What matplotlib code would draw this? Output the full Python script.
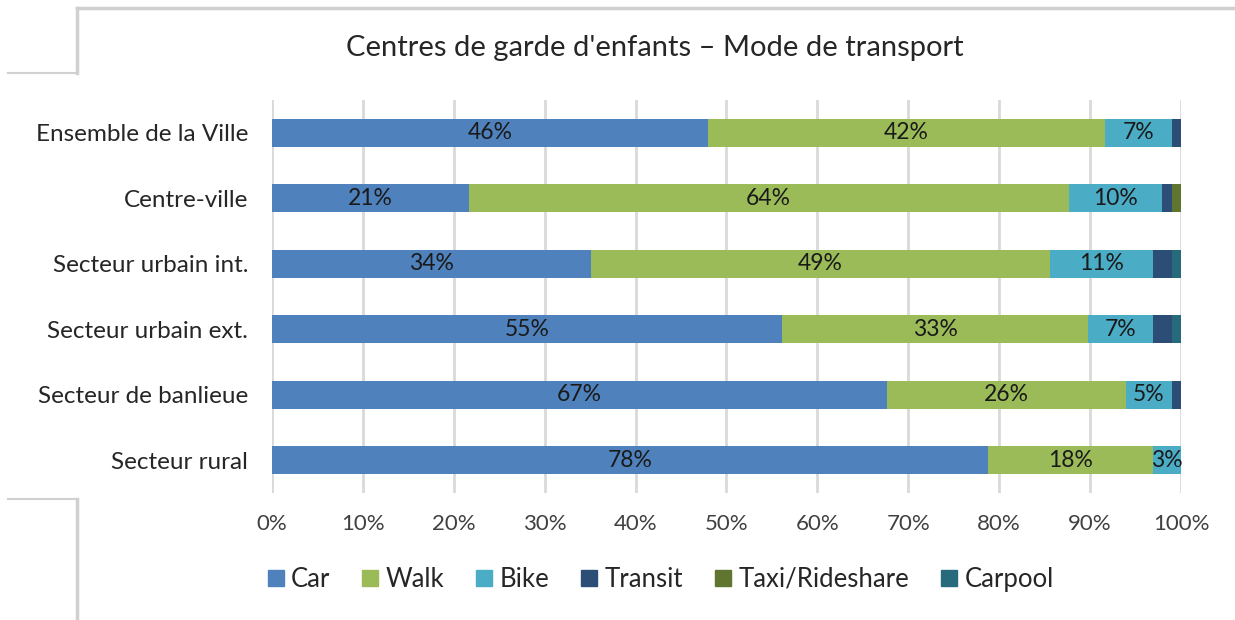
import numpy as np
import matplotlib.pyplot as plt
from matplotlib.lines import Line2D

plt.rcParams['font.family'] = ['Lato', 'DejaVu Sans']

# data
categories = ['Ensemble de la Ville', 'Centre-ville', 'Secteur urbain int.',
              'Secteur urbain ext.', 'Secteur de banlieue', 'Secteur rural']
series = ['Car', 'Walk', 'Bike', 'Transit', 'Taxi/Rideshare', 'Carpool']
car = [46, 21, 34, 55, 67, 78]
walk = [42, 64, 49, 33, 26, 18]
bike = [7, 10, 11, 7, 5, 3]
transit = [1, 1, 2, 2, 1, 0]
taxi = [0, 1, 0, 0, 0, 0]
carpool = [0, 0, 1, 1, 0, 0]
colors = ['#4F81BD', '#9BBB59', '#4BACC6', '#2C4D75', '#5F7530', '#276A7C']
labelled = [True, True, True, False, False, False]

values = np.array([car, walk, bike, transit, taxi, carpool], dtype=float)
shares = values / values.sum(axis=0) * 100  # 100% stacked

fig = plt.figure(figsize=(12.35, 6.2), dpi=100)
ax = fig.add_axes([0.2202, 0.2048, 0.7361, 0.6339])

y = np.arange(len(categories))
left = np.zeros(len(categories))
for i, name in enumerate(series):
    ax.barh(y, shares[i], left=left, height=0.43, color=colors[i],
            label=name, zorder=3)
    if labelled[i]:
        for j in range(len(categories)):
            if values[i, j] > 0:
                ax.text(left[j] + shares[i, j] / 2, y[j], '%d%%' % values[i, j],
                        ha='center', va='center', fontsize=16.5,
                        color='#1a1a1a', zorder=4)
    left += shares[i]

ax.set_xlim(0, 100)
ax.set_ylim(len(categories) - 0.5, -0.5)
ax.set_xticks(np.arange(0, 101, 10))
ax.set_xticklabels(['%d%%' % t for t in range(0, 101, 10)])
ax.set_yticks(y)
ax.set_yticklabels(categories)
ax.tick_params(axis='x', length=0, labelsize=16, labelcolor='#404040', pad=15)
ax.tick_params(axis='y', length=0, labelsize=17.5, labelcolor='#262626', pad=17)
ax.grid(axis='x', color='#d9d9d9', linewidth=2, zorder=0)
for s in ax.spines.values():
    s.set_visible(False)

fig.text(0.530, 0.923, "Centres de garde d'enfants \u2013 Mode de transport",
         ha='center', va='center', fontsize=21, color='#262626')

handles = [Line2D([], [], marker='s', linestyle='none', markersize=11,
                  color=c) for c in colors]
fig.legend(handles, series, loc='center', bbox_to_anchor=(0.535, 0.066),
           ncol=6, frameon=False, fontsize=18.5, handletextpad=0.3,
           handlelength=0.6, columnspacing=1.25, labelcolor='#262626')

# screenshot cell borders
border = '#d0d0d0'
W, H = 1235.0, 620.0
def seg(x0, y0, x1, y1, lw=1.5):
    fig.add_artist(Line2D([x0 / W, x1 / W], [1 - y0 / H, 1 - y1 / H],
                          color=border, linewidth=lw))
seg(77, 8, 1235, 8, 2.5)
seg(77, 8, 77, 73, 2.5)
seg(8, 73, 77, 73)
seg(8, 499, 77, 499)
seg(77, 499, 77, 620, 2.5)

fig.savefig('out.png', dpi=100)
